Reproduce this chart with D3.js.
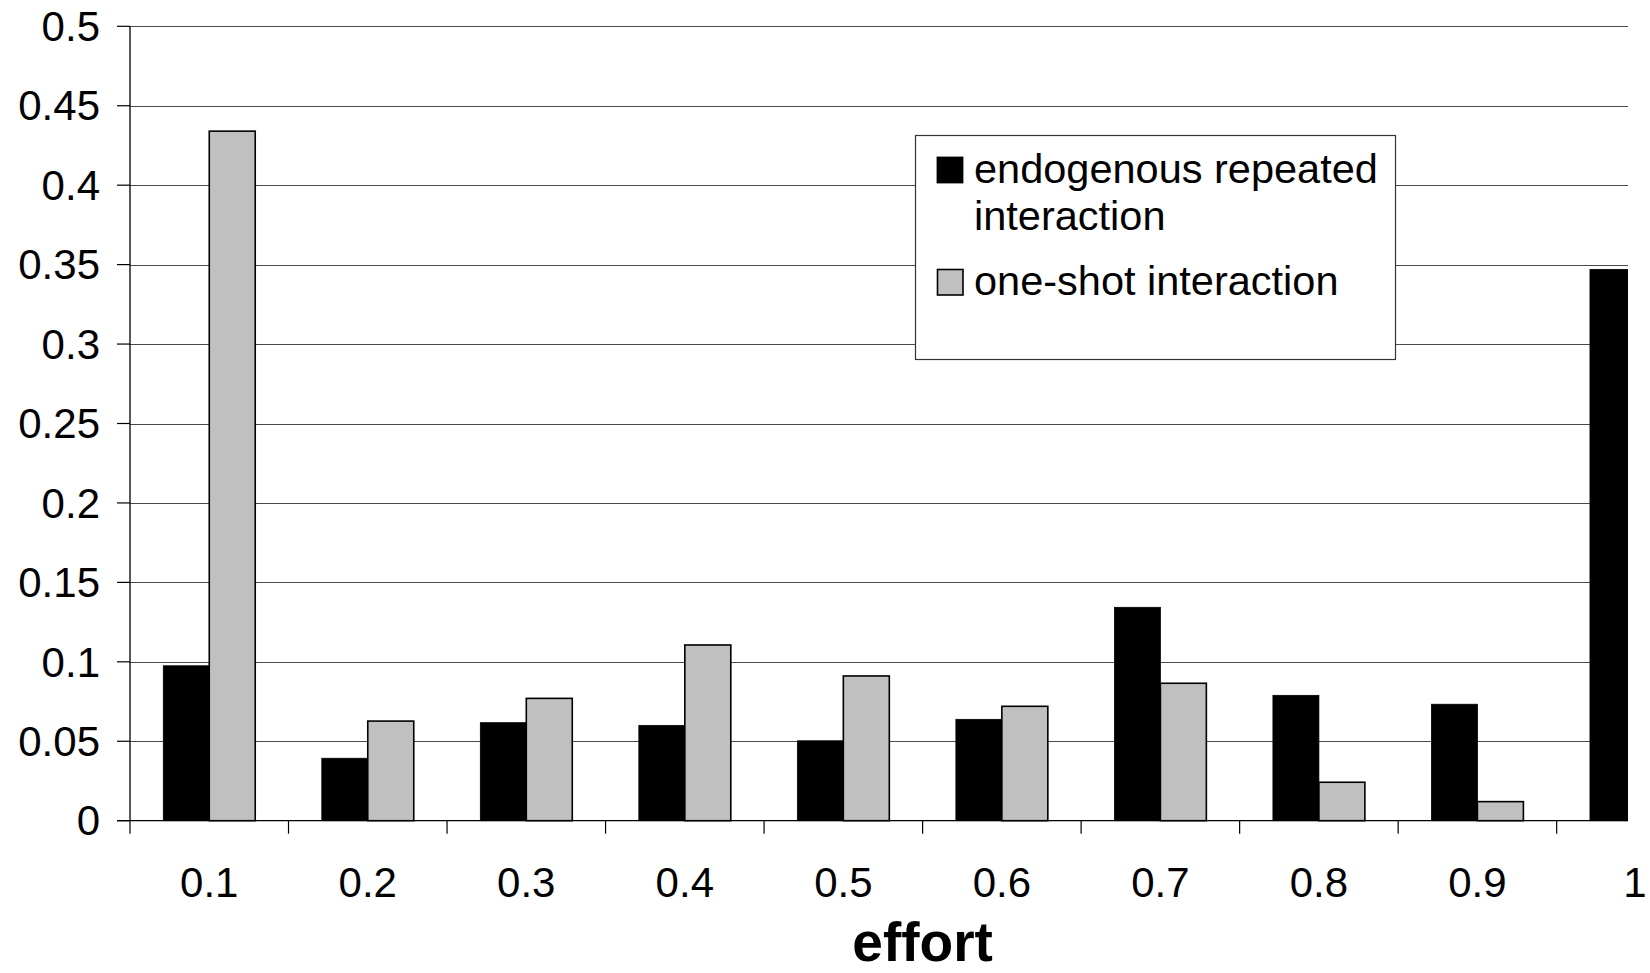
<!DOCTYPE html>
<html>
<head>
<meta charset="utf-8">
<script src="https://cdn.jsdelivr.net/npm/d3@7"></script>
<style>
  html, body { margin: 0; padding: 0; background: #fff; }
  svg { display: block; font-family: "Liberation Sans", Arial, sans-serif; }
</style>
</head>
<body>
<svg id="chart" width="1650" height="973"></svg>
<script>
// ---- data ----
const categories = ["0.1", "0.2", "0.3", "0.4", "0.5", "0.6", "0.7", "0.8", "0.9", "1"];
const seriesNames = ["endogenous repeated interaction", "one-shot interaction"];
const repeatedValues = [0.0975, 0.0393, 0.0617, 0.0600, 0.0503, 0.0638, 0.1343, 0.0789, 0.0733, 0.347];
const oneShotValues  = [0.4340, 0.0627, 0.0770, 0.1106, 0.0911, 0.0720, 0.0865, 0.0242, 0.0120, 0.0];
const yTicks = [0, 0.05, 0.1, 0.15, 0.2, 0.25, 0.3, 0.35, 0.4, 0.45, 0.5];
const yTickLabels = ["0", "0.05", "0.1", "0.15", "0.2", "0.25", "0.3", "0.35", "0.4", "0.45", "0.5"];
const xTitle = "effort";

// ---- layout ----
const W = 1650, H = 973;
const plotLeft = 130, plotRight = 1715.2, clipRight = 1628;
const plotTop = 26.3, plotBottom = 820.7;
const colors = ["#000000", "#c0c0c0"];

const svg = d3.select("#chart");

const x = d3.scaleBand().domain(categories).range([plotLeft, plotRight]).padding(0);
const xs = d3.scaleBand().domain([0, 1]).range([x.bandwidth() * 0.21, x.bandwidth() * 0.79]).padding(0);
const y = d3.scaleLinear().domain([0, 0.5]).range([plotBottom, plotTop]);

svg.append("defs").append("clipPath").attr("id", "plotclip")
  .append("rect").attr("x", 0).attr("y", 0).attr("width", clipRight).attr("height", H);

const plot = svg.append("g").attr("clip-path", "url(#plotclip)");

// gridlines
plot.append("g").selectAll("line").data(yTicks.filter(d => d > 0)).join("line")
  .attr("x1", plotLeft).attr("x2", plotRight)
  .attr("y1", d => Math.round(y(d)) + 0.5).attr("y2", d => Math.round(y(d)) + 0.5)
  .attr("stroke", "#4a4a4a").attr("stroke-width", 1.2);

// bars
const data = categories.map((c, i) => ({ cat: c, vals: [repeatedValues[i], oneShotValues[i]] }));
const groups = plot.append("g").selectAll("g").data(data).join("g")
  .attr("transform", d => `translate(${x(d.cat)},0)`);
groups.selectAll("rect").data(d => d.vals.map((v, k) => ({ v, k }))).join("rect")
  .filter(d => d.v > 0)
  .attr("x", d => xs(d.k))
  .attr("width", xs.bandwidth())
  .attr("y", d => y(d.v))
  .attr("height", d => y(0) - y(d.v))
  .attr("fill", d => colors[d.k])
  .attr("stroke", "#000")
  .attr("stroke-width", d => d.k === 1 ? 1.6 : 0.8);

// x axis line (clipped)
plot.append("line")
  .attr("x1", plotLeft - 13).attr("x2", plotRight)
  .attr("y1", plotBottom).attr("y2", plotBottom)
  .attr("stroke", "#000").attr("stroke-width", 1.3);

// x ticks at band boundaries
const boundaries = categories.map(c => x(c));
plot.append("g").selectAll("line").data(boundaries).join("line")
  .attr("x1", d => d).attr("x2", d => d)
  .attr("y1", plotBottom).attr("y2", plotBottom + 13)
  .attr("stroke", "#000").attr("stroke-width", 1.2);

// y axis
svg.append("line")
  .attr("x1", plotLeft).attr("x2", plotLeft)
  .attr("y1", plotTop).attr("y2", plotBottom)
  .attr("stroke", "#000").attr("stroke-width", 1.3);
svg.append("g").selectAll("line").data(yTicks).join("line")
  .attr("x1", plotLeft - 13).attr("x2", plotLeft)
  .attr("y1", d => y(d)).attr("y2", d => y(d))
  .attr("stroke", "#000").attr("stroke-width", 1.2);
svg.append("g").selectAll("text").data(yTicks).join("text")
  .attr("x", 100).attr("y", d => y(d)).attr("dy", "0.35em")
  .attr("text-anchor", "end").attr("font-size", 42).attr("fill", "#000")
  .text((d, i) => yTickLabels[i]);

// x labels
svg.append("g").selectAll("text").data(categories).join("text")
  .attr("x", c => Math.min(x(c) + x.bandwidth() / 2, W - 15))
  .attr("y", 897)
  .attr("text-anchor", "middle").attr("font-size", 42).attr("fill", "#000")
  .text(c => c);

// x title
svg.append("text")
  .attr("x", (plotLeft + plotRight) / 2).attr("y", 961)
  .attr("text-anchor", "middle").attr("font-size", 55).attr("font-weight", "bold")
  .attr("fill", "#000").text(xTitle);

// legend
const lg = svg.append("g");
lg.append("rect").attr("x", 915.5).attr("y", 135.5).attr("width", 480).attr("height", 224)
  .attr("fill", "#fff").attr("stroke", "#333").attr("stroke-width", 1.2);
lg.append("rect").attr("x", 937).attr("y", 157).attr("width", 26).attr("height", 26)
  .attr("fill", colors[0]).attr("stroke", "#000").attr("stroke-width", 0.8);
lg.append("rect").attr("x", 937.5).attr("y", 269.5).attr("width", 25.5).attr("height", 25.5)
  .attr("fill", colors[1]).attr("stroke", "#000").attr("stroke-width", 1.6);
lg.append("text").attr("x", 974).attr("y", 183).attr("font-size", 41.5).attr("fill", "#000")
  .text("endogenous repeated");
lg.append("text").attr("x", 974).attr("y", 230).attr("font-size", 41.5).attr("fill", "#000")
  .text("interaction");
lg.append("text").attr("x", 974).attr("y", 295).attr("font-size", 41.5).attr("fill", "#000")
  .text(seriesNames[1]);
</script>
</body>
</html>
